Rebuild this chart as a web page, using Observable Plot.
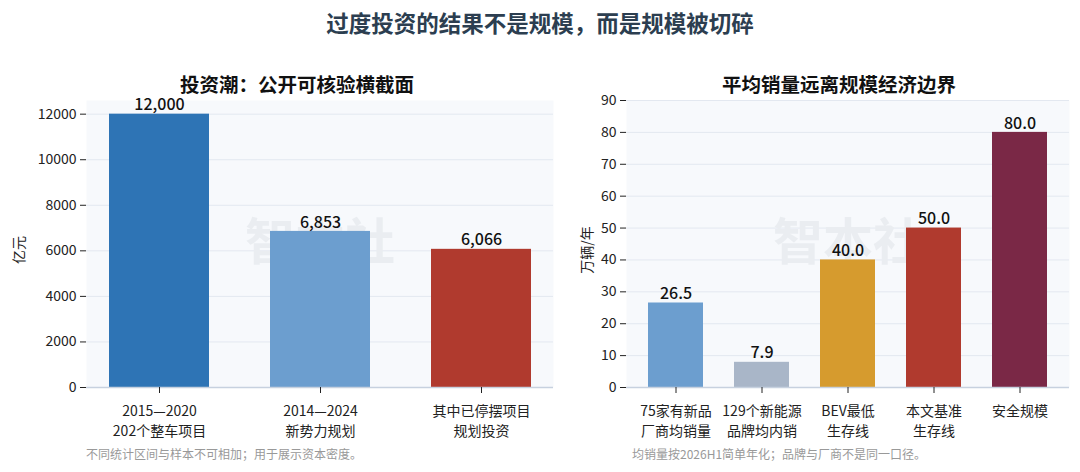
<!DOCTYPE html>
<html><head><meta charset="utf-8">
<script src="https://cdn.jsdelivr.net/npm/d3@7"></script>
<script src="https://cdn.jsdelivr.net/npm/@observablehq/plot@0.6"></script>
<style>
body{margin:0;background:#fff;font-family:"Noto Sans CJK SC","Noto Sans",sans-serif;}
#wrap{position:relative;width:1080px;height:472px;overflow:hidden;}
.abs{position:absolute;white-space:nowrap;}
.main{left:0;width:1080px;top:6px;text-align:center;font-size:22.5px;font-weight:bold;color:#2c3e50;}
.sub{font-size:19.5px;font-weight:bold;color:#111;}
.note{font-size:12px;color:#999;}
.ylab{font-size:14px;color:#222;transform:rotate(-90deg);transform-origin:center;}
</style></head>
<body><div id="wrap">
<div class="abs main">过度投资的结果不是规模，而是规模被切碎</div>
<div class="abs sub" id="t1" style="left:180px;top:69px;">投资潮：公开可核验横截面</div>
<div class="abs sub" id="t2" style="left:722px;top:69px;">平均销量远离规模经济边界</div>
<div class="abs ylab" style="left:4px;top:240px;">亿元</div>
<div class="abs ylab" style="left:562px;top:240px;">万辆/年</div>
<div class="abs note" style="left:86px;top:445px;">不同统计区间与样本不可相加；用于展示资本密度。</div>
<div class="abs note" style="left:632px;top:445px;">均销量按2026H1简单年化；品牌与厂商不是同一口径。</div>
<div class="abs" id="c1" style="left:0;top:90px;"></div>
<div class="abs" id="c2" style="left:560px;top:90px;"></div>
</div>
<script>
const leftCats = ["2015—2020\n202个整车项目", "2014—2024\n新势力规划", "其中已停摆项目\n规划投资"];
const leftVals = [12000, 6853, 6066];
const leftColors = ["#2e74b5", "#6c9ecf", "#b03a2e"];
const leftTicks = [0, 2000, 4000, 6000, 8000, 10000, 12000];

const rightCats = ["75家有新品\n厂商均销量", "129个新能源\n品牌均内销", "BEV最低\n生存线", "本文基准\n生存线", "安全规模"];
const rightVals = [26.5, 7.9, 40.0, 50.0, 80.0];
const rightColors = ["#6c9ecf", "#a9b6c8", "#d69b2e", "#b03a2e", "#7a2846"];
const rightTicks = [0, 10, 20, 30, 40, 50, 60, 70, 80, 90];

const font = '"Noto Sans CJK SC","Noto Sans",sans-serif';

function chart({cats, vals, colors, ticks, yMax, width, ml, mr, pi, po, fmt}) {
  const data = cats.map((c, i) => ({c, v: vals[i], col: colors[i]}));
  return Plot.plot({
    width, height: 350,
    marginLeft: ml, marginRight: mr, marginTop: 10, marginBottom: 53,
    style: {fontFamily: font, fontSize: "14px", color: "#222", background: "transparent"},
    x: {domain: cats, paddingInner: pi, paddingOuter: po, label: null},
    y: {domain: [0, yMax], label: null},
    marks: [
      Plot.frame({fill: "#f7f9fc", stroke: null}),
      Plot.ruleY(ticks, {stroke: "#e3e8f0", strokeWidth: 1}),
      Plot.text(["智本社"], {frameAnchor: "middle", fontSize: 50, fontWeight: "bold", fill: "#eaedf1"}),
      Plot.barY(data, {x: "c", y: "v", fill: "col"}),
      Plot.text(data, {x: "c", y: "v", text: d => fmt(d.v), dy: -9, fontSize: 16, fontWeight: 500, fill: "#111"}),
      Plot.ruleX([0], {frameAnchor: "left", stroke: "#c7d1df", strokeWidth: 1.5}),
      Plot.ruleY([0], {stroke: "#c7d1df", strokeWidth: 1.5}),
      Plot.axisY({ticks, tickSize: 6, tickPadding: 4, fontSize: 14, label: null, tickFormat: d => String(d)}),
      Plot.axisX({tickSize: 6, tickPadding: 8, fontSize: 14, lineHeight: 1.45, label: null})
    ]
  });
}

document.getElementById("c1").append(chart({
  cats: leftCats, vals: leftVals, colors: leftColors, ticks: leftTicks, yMax: 12600,
  width: 560, ml: 86, mr: 7, pi: 0.38, po: 0.136, fmt: d3.format(",")
}));
document.getElementById("c2").append(chart({
  cats: rightCats, vals: rightVals, colors: rightColors, ticks: rightTicks, yMax: 90,
  width: 520, ml: 66, mr: 11, pi: 0.364, po: 0.237, fmt: d3.format(".1f")
}));
</script>
</body></html>
